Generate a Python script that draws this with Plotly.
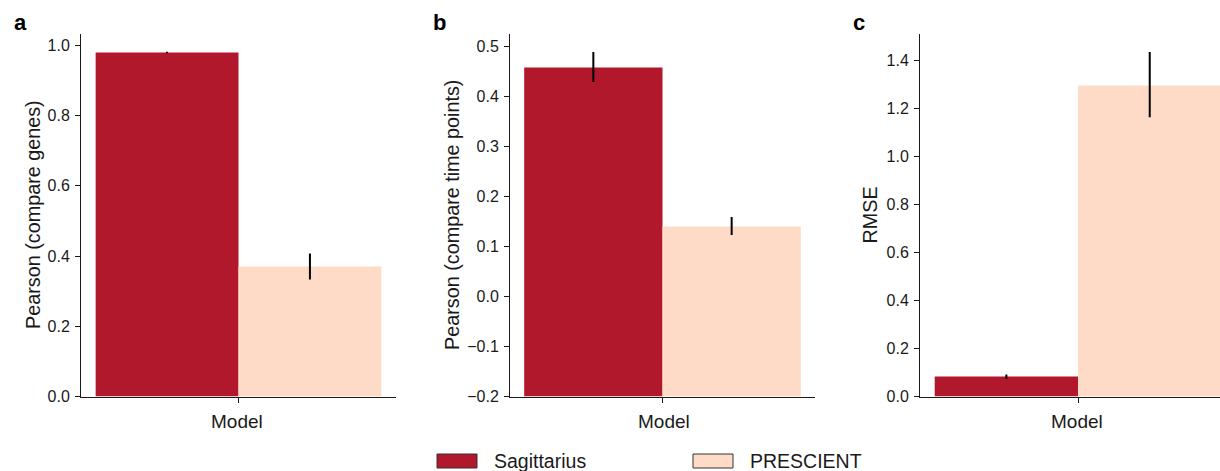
import plotly.graph_objects as go

# ---- data ----
models = ["Sagittarius", "PRESCIENT"]
colors = ["#b2182b", "#fddbc7"]
category = ["Model"]

pearson_genes = [0.980, 0.370]
pearson_genes_err_plus = [0.002, 0.037]
pearson_genes_err_minus = [0.002, 0.037]

pearson_time = [0.458, 0.140]
pearson_time_err_plus = [0.031, 0.019]
pearson_time_err_minus = [0.029, 0.017]
pearson_time_base = -0.2

rmse = [0.083, 1.296]
rmse_err_plus = [0.009, 0.139]
rmse_err_minus = [0.009, 0.132]

panel_letters = ["a", "b", "c"]
y_titles = ["Pearson (compare genes)", "Pearson (compare time points)", "RMSE"]

# ---- layout geometry (pixels) ----
W, H = 1220, 471
FONT = "Liberation Sans, Arial, Helvetica, sans-serif"
TXT = "#1a1a1a"


def px_x(v):
    return v / W


def px_y(v):
    return 1 - v / H


y_dom = [px_y(396.5), px_y(33.5)]
x_doms = [[px_x(81), px_x(396)], [px_x(510), px_x(815)], [px_x(920), 1.0]]
x_ranges = [[-0.5, 0.5], [-0.5, 0.5], [-0.5, 0.449]]
y_ranges = [[0, 1.034], [-0.2, 0.526], [0, 1.5125]]
y_dticks = [0.2, 0.1, 0.2]

fig = go.Figure()

panels = [
    (pearson_genes, pearson_genes_err_plus, pearson_genes_err_minus, 0.0),
    (pearson_time, pearson_time_err_plus, pearson_time_err_minus, pearson_time_base),
    (rmse, rmse_err_plus, rmse_err_minus, 0.0),
]

for p, (vals, ep, em, base) in enumerate(panels):
    xa = "x" if p == 0 else f"x{p + 1}"
    ya = "y" if p == 0 else f"y{p + 1}"
    for i, name in enumerate(models):
        fig.add_trace(go.Bar(
            x=category,
            y=[vals[i] - base],
            base=[base],
            name=name,
            marker=dict(color=colors[i], line=dict(width=0)),
            error_y=dict(type="data", array=[ep[i]], arrayminus=[em[i]],
                         color="black", thickness=2, width=0, symmetric=False),
            offsetgroup=str(i),
            showlegend=False,
            xaxis=xa, yaxis=ya,
        ))

axis_common = dict(showline=True, linecolor=TXT, linewidth=1, showgrid=False,
                   zeroline=False, ticks="outside", ticklen=5, tickwidth=1,
                   tickcolor=TXT, automargin=False,
                   tickfont=dict(family=FONT, size=16, color=TXT))

layout = dict(
    width=W, height=H,
    margin=dict(l=0, r=0, t=0, b=0),
    paper_bgcolor="white", plot_bgcolor="white",
    barmode="group", bargap=0.093, bargroupgap=0,
    font=dict(family=FONT, color=TXT),
    showlegend=False,
)

for p in range(3):
    sx = "" if p == 0 else str(p + 1)
    layout[f"xaxis{sx}"] = dict(axis_common, domain=x_doms[p], range=x_ranges[p],
                               showticklabels=False, anchor=f"y{sx}",
                               type="category")
    layout[f"yaxis{sx}"] = dict(axis_common, domain=y_dom, range=y_ranges[p],
                               dtick=y_dticks[p], tick0=0, tickformat=".1f",
                               anchor=f"x{sx}", ticklabelstandoff=2)

fig.update_layout(**layout)

annotations = []
# panel letters
for p, (letter, xpix) in enumerate(zip(panel_letters, [12, 431, 851])):
    annotations.append(dict(text=f"<b>{letter}</b>", xref="paper", yref="paper",
                            x=px_x(xpix), y=px_y(23), xanchor="left", yanchor="middle",
                            showarrow=False, font=dict(family=FONT, size=22, color="black")))
# y titles
for p, (t, xpix) in enumerate(zip(y_titles, [33, 452, 869.5])):
    annotations.append(dict(text=t, xref="paper", yref="paper", textangle=-90,
                            x=px_x(xpix), y=px_y(215), xanchor="center", yanchor="middle",
                            showarrow=False, font=dict(family=FONT, size=19.8, color=TXT)))
# x titles
for p, xpix in enumerate([236.5, 663.5, 1077]):
    annotations.append(dict(text=category[0], xref="paper", yref="paper",
                            x=px_x(xpix), y=px_y(421.5), xanchor="center", yanchor="middle",
                            showarrow=False, font=dict(family=FONT, size=19, color=TXT)))

# legend
shapes = []
for i, (name, sx) in enumerate(zip(models, [437, 693])):
    shapes.append(dict(type="rect", xref="paper", yref="paper",
                       x0=px_x(sx), x1=px_x(sx + 40), y0=px_y(468), y1=px_y(454),
                       fillcolor=colors[i], line=dict(color="#333333", width=1)))
    annotations.append(dict(text=name, xref="paper", yref="paper",
                            x=px_x(sx + 55), y=px_y(461), xanchor="left", yanchor="middle",
                            showarrow=False, font=dict(family=FONT, size=19.5, color=TXT)))

fig.update_layout(annotations=annotations, shapes=shapes)

fig.write_html("out.html")
